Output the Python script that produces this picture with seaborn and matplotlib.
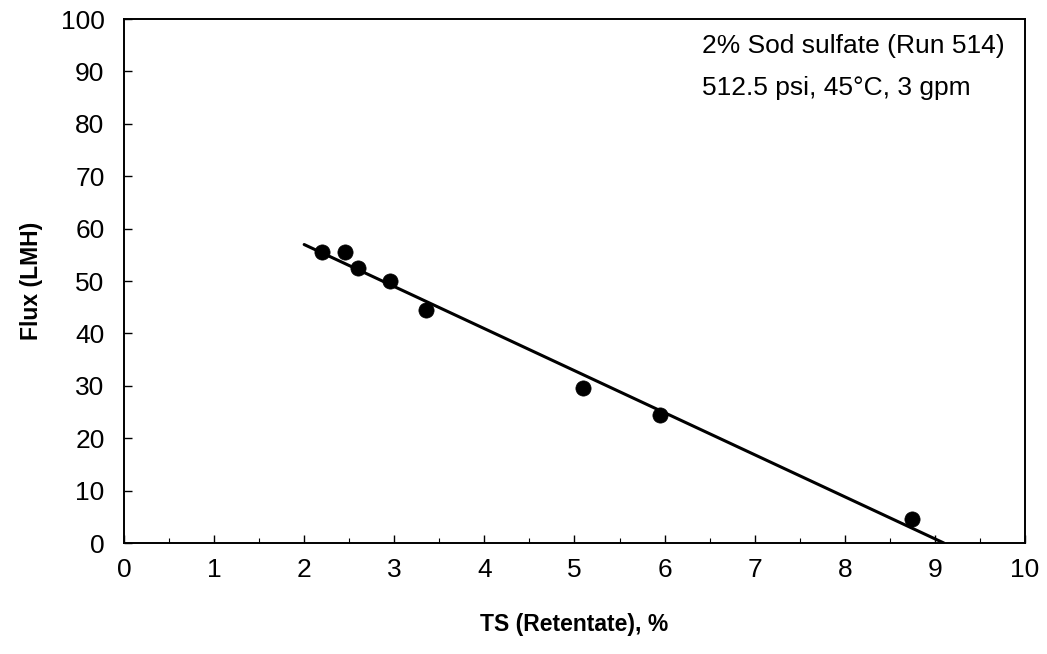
import numpy as np
import pandas as pd
import matplotlib
matplotlib.use("Agg")
import matplotlib.pyplot as plt
from matplotlib.ticker import MultipleLocator
import seaborn as sns

# Retentate total solids (%) and permeate flux (LMH), Run 514
ts_retentate = [2.2, 2.45, 2.6, 2.95, 3.35, 5.1, 5.95, 8.75]
flux_lmh = [55.5, 55.5, 52.5, 50.0, 44.5, 29.5, 24.5, 4.5]

x_ticks = list(range(0, 11))
y_ticks = list(range(0, 101, 10))

sns.set_theme(style="ticks")
plt.rcParams["font.family"] = ["Liberation Sans", "DejaVu Sans"]
for key in ("text.color", "axes.labelcolor", "xtick.color", "ytick.color",
            "axes.edgecolor"):
    plt.rcParams[key] = "black"

df = pd.DataFrame({"ts": ts_retentate, "flux": flux_lmh})

# Linear fit drawn from TS = 2 out to where flux reaches zero
slope, intercept = np.polyfit(df["ts"], df["flux"], 1)
x_zero = -intercept / slope
fit = pd.DataFrame({"ts": [2.0, x_zero]})
fit["flux"] = intercept + slope * fit["ts"]

fig = plt.figure(figsize=(10.47, 6.54), dpi=100)
ax = fig.add_axes([0.1184, 0.1697, 0.8606, 0.8012])

sns.lineplot(data=fit, x="ts", y="flux", ax=ax, color="black", linewidth=2.2)
sns.scatterplot(data=df, x="ts", y="flux", ax=ax, color="black", s=120,
                edgecolor="black", linewidth=0.5, zorder=3)

ax.set_xlim(0, 10)
ax.set_ylim(0, 100)
ax.set_xticks(x_ticks)
ax.set_yticks(y_ticks)
ax.xaxis.set_minor_locator(MultipleLocator(0.5))
ax.tick_params(axis="both", which="major", direction="in", length=6,
               width=1.0, labelsize=19, color="black")
ax.tick_params(axis="x", which="major", pad=11)
ax.tick_params(axis="y", which="major", pad=14)
ax.tick_params(axis="x", which="minor", direction="in", length=3.5, width=0.8)
for spine in ax.spines.values():
    spine.set_visible(True)
    spine.set_color("black")
    spine.set_linewidth(1.4)

ax.set_xlabel("TS (Retentate), %", fontsize=16.5, fontweight="bold", labelpad=22)
ax.set_ylabel("Flux (LMH)", fontsize=16.5, fontweight="bold", labelpad=13)

ax.text(0.6415, 0.935, "2% Sod sulfate (Run 514)", transform=ax.transAxes,
        ha="left", va="baseline", fontsize=19)
ax.text(0.6415, 0.855, "512.5 psi, 45°C, 3 gpm", transform=ax.transAxes,
        ha="left", va="baseline", fontsize=19)

fig.savefig("out.png", dpi=100, facecolor="white")
